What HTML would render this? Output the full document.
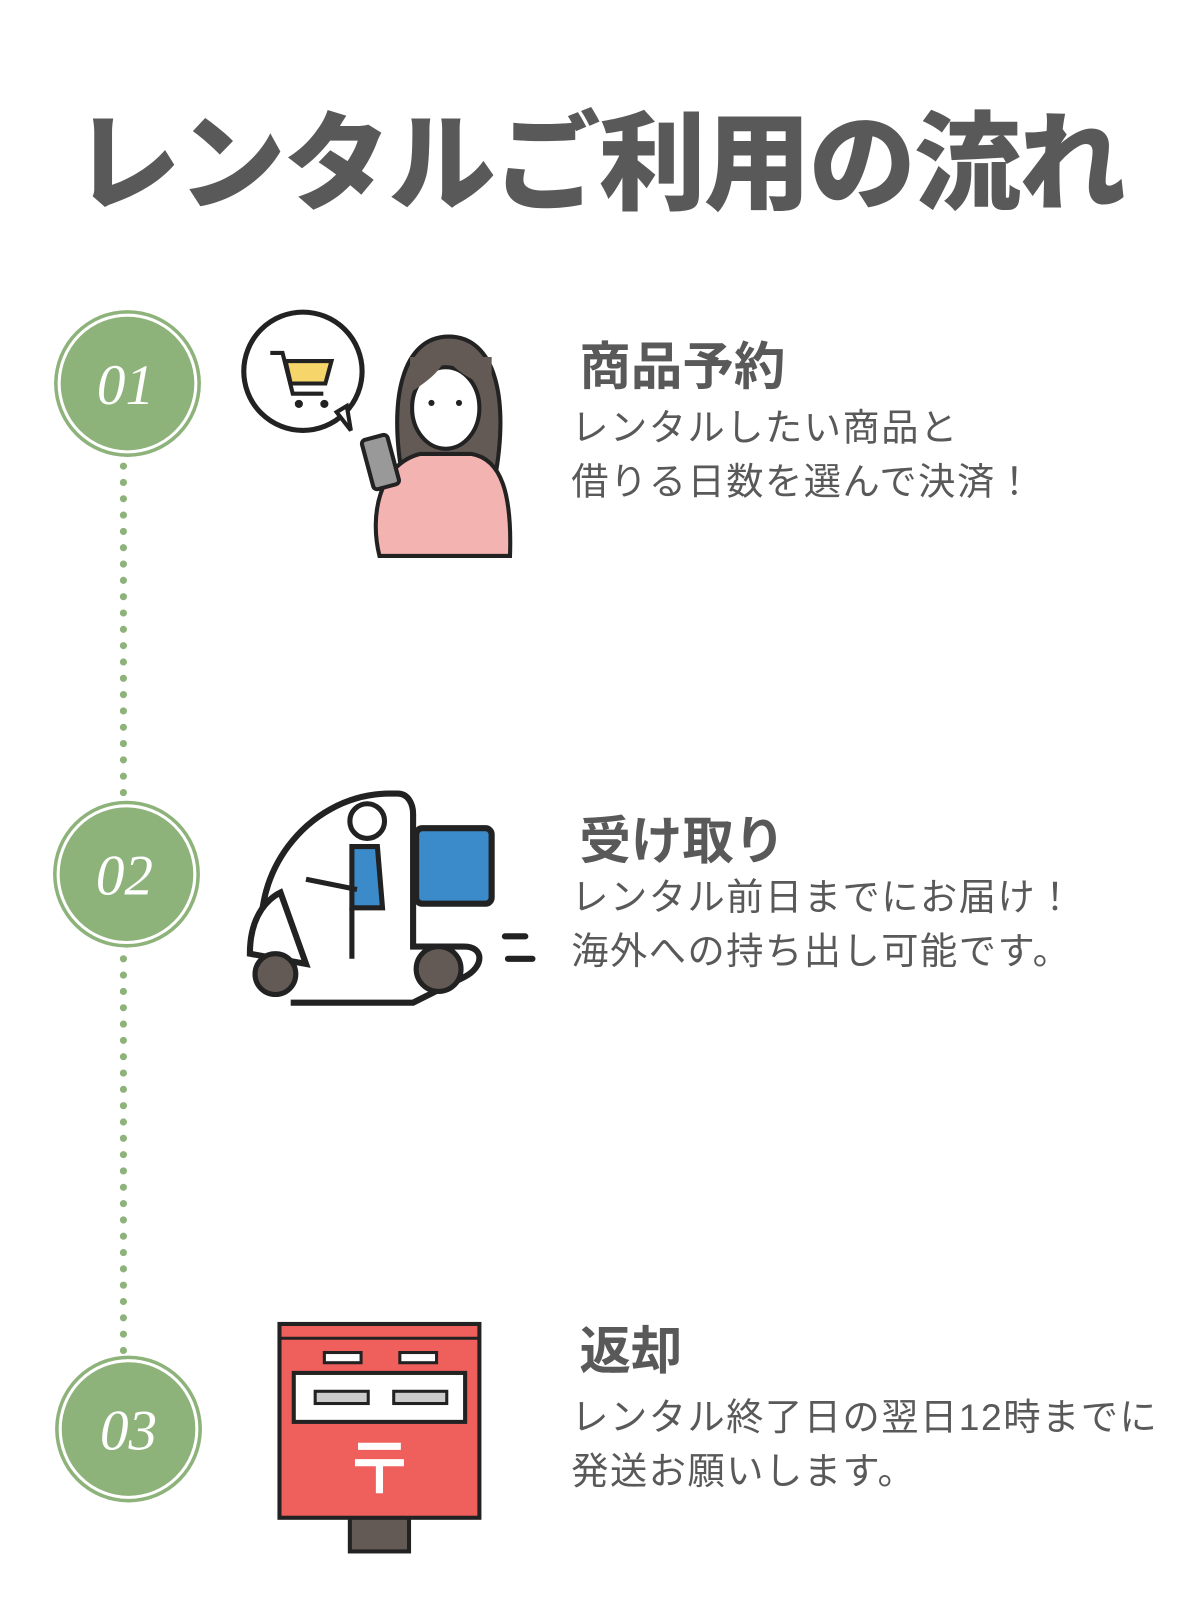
<!DOCTYPE html>
<html><head><meta charset="utf-8"><style>
body{margin:0;width:1200px;height:1600px;background:#fff;overflow:hidden;font-family:"Liberation Sans","Noto Sans CJK JP",sans-serif;color:#595959}
#w{position:absolute;left:0;top:0;width:1176px;height:1569px;transform:scale(1.02);transform-origin:0 0}
.t{position:absolute;white-space:nowrap}
h1{position:absolute;margin:0;left:0;width:1174px;text-align:center;top:100px;font-size:105px;font-weight:900;color:#595959;letter-spacing:-2px;line-height:124px}
.h{font-size:50.5px;font-weight:700;left:568px;line-height:56px}
.b{font-size:36.5px;left:560px;line-height:53px;letter-spacing:1.5px}
</style></head><body><div id="w">
<h1>レンタルご利用の流れ</h1>
<svg width="1176" height="1569" style="position:absolute;left:0;top:0">
<g fill="#8db37a">
<circle cx="125" cy="376" r="72"/><circle cx="124" cy="857" r="72"/><circle cx="126" cy="1401" r="72"/>
</g>
<g fill="none" stroke="#fff" stroke-width="3">
<circle cx="125" cy="376" r="67"/><circle cx="124" cy="857" r="67"/><circle cx="126" cy="1401" r="67"/>
</g>
<g stroke="#8db37a" stroke-width="7" stroke-linecap="round" stroke-dasharray="0 16">
<line x1="121" y1="457" x2="121" y2="785"/>
<line x1="121" y1="940" x2="121" y2="1330"/>
</g>
<g font-family="Liberation Serif,serif" font-style="italic" fill="#fff" font-size="56" text-anchor="middle">
<text x="123" y="396">01</text><text x="122" y="877">02</text><text x="126" y="1421">03</text>
</g>
<circle cx="297" cy="364" r="58" fill="#fff" stroke="#222" stroke-width="5"/>
<path d="M330 404l14 18-4-24z" fill="#fff" stroke="#222" stroke-width="4"/>
<path d="M280 354h45l-6 22h-34z" fill="#f6d56a" stroke="#222" stroke-width="4"/>
<path d="M265 346h12l10 40h30" fill="none" stroke="#222" stroke-width="4"/>
<circle cx="293" cy="396" r="4" fill="#222"/><circle cx="318" cy="396" r="4" fill="#222"/>
<path d="M395 470c-15-80 0-140 45-140s60 60 45 140z" fill="#635a56" stroke="#222" stroke-width="4"/>
<path d="M372 545c-10-40 0-90 40-100h50c30 5 40 40 38 100z" fill="#f3b3b1" stroke="#222" stroke-width="4"/>
<ellipse cx="437" cy="400" rx="33" ry="40" fill="#fff" stroke="#222" stroke-width="4"/>
<path d="M402 385c15-10 30-20 35-35 10 15 30 25 45 30v-30h-80z" fill="#635a56"/>
<circle cx="423" cy="395" r="3" fill="#222"/><circle cx="450" cy="395" r="3" fill="#222"/>
<rect x="360" y="428" width="26" height="50" rx="4" fill="#999" stroke="#222" stroke-width="4" transform="rotate(-15 373 453)"/>
<path d="M260 940c-20-80 40-160 120-162h10c10 0 15 10 15 20v130h50c20 0 20 20 0 30l-50 25h-120" fill="#fff" stroke="#222" stroke-width="6"/>
<path d="M245 935c0-40 20-55 30-60l25 70z" fill="#fff" stroke="#222" stroke-width="6"/>
<rect x="408" y="812" width="74" height="74" rx="6" fill="#3b8bca" stroke="#222" stroke-width="6"/>
<circle cx="270" cy="955" r="20" fill="#635a56" stroke="#222" stroke-width="5"/>
<circle cx="430" cy="950" r="22" fill="#635a56" stroke="#222" stroke-width="5"/>
<circle cx="360" cy="805" r="17" fill="#fff" stroke="#222" stroke-width="5"/>
<path d="M345 830h25l5 60h-30z" fill="#3b8bca" stroke="#222" stroke-width="5"/>
<path d="M345 890v50M300 862l50 10" stroke="#222" stroke-width="5"/>
<path d="M495 918h20M498 940h24" stroke="#222" stroke-width="6" stroke-linecap="round"/>
<rect x="343" y="1485" width="58" height="36" fill="#635a56" stroke="#222" stroke-width="4"/>
<rect x="274" y="1298" width="196" height="190" fill="#ef5f5c" stroke="#222" stroke-width="4"/>
<line x1="274" y1="1312" x2="470" y2="1312" stroke="#222" stroke-width="3"/>
<rect x="318" y="1326" width="36" height="10" fill="#fff" stroke="#222" stroke-width="3"/>
<rect x="392" y="1326" width="36" height="10" fill="#fff" stroke="#222" stroke-width="3"/>
<rect x="288" y="1346" width="168" height="48" fill="#fff" stroke="#222" stroke-width="4"/>
<rect x="309" y="1364" width="52" height="12" fill="#ccc" stroke="#222" stroke-width="3"/>
<rect x="386" y="1364" width="52" height="12" fill="#ccc" stroke="#222" stroke-width="3"/>
<path d="M351 1418h42M348 1434h48M372 1434v30" stroke="#fff" stroke-width="7"/>
</svg>
<div class="t h" style="top:332px">商品予約</div>
<div class="t b" style="top:393px">レンタルしたい商品と<br>借りる日数を選んで決済！</div>
<div class="t h" style="top:797px">受け取り</div>
<div class="t b" style="top:853px">レンタル前日までにお届け！<br>海外への持ち出し可能です。</div>
<div class="t h" style="top:1297px">返却</div>
<div class="t b" style="top:1363px">レンタル終了日の翌日12時までに<br>発送お願いします。</div>
</div></body></html>
